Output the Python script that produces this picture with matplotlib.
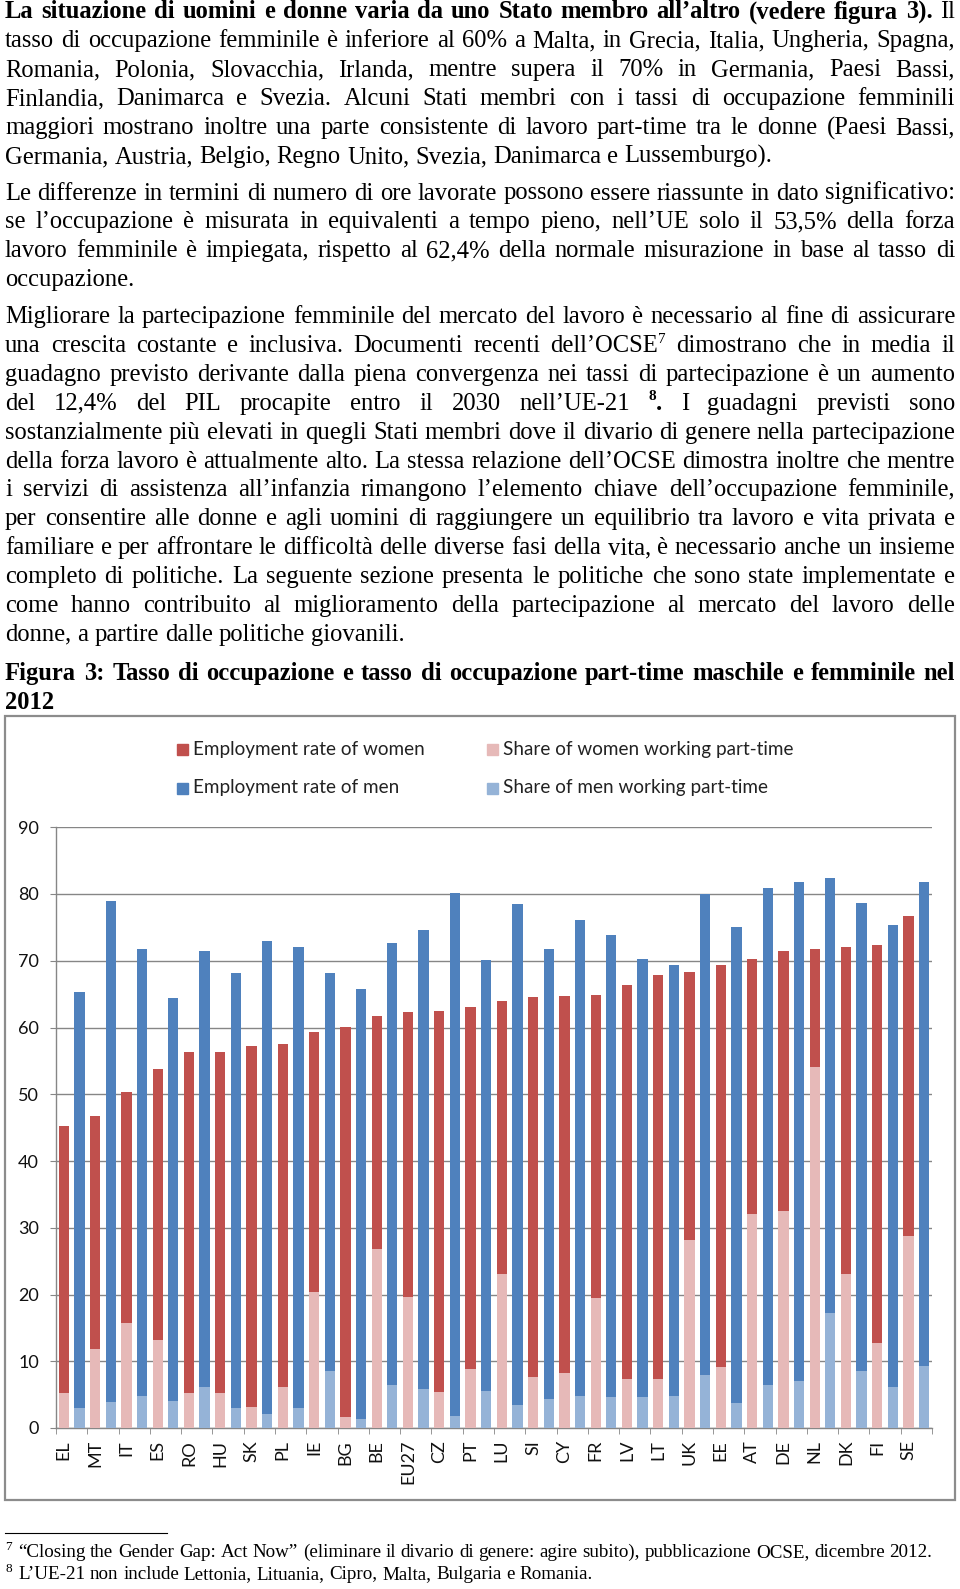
"""Pagina con testo giustificato e Figura 3: tassi di occupazione 2012."""
import numpy as np
import matplotlib.pyplot as plt
from matplotlib.patches import Rectangle
from matplotlib.lines import Line2D

W, H = 960, 1589
SERIF = "Liberation Serif"
SANS = "Lato"

# dati della figura 3
countries = ["EL", "MT", "IT", "ES", "RO", "HU", "SK", "PL", "IE", "BG", "BE", "EU27",
             "CZ", "PT", "LU", "SI", "CY", "FR", "LV", "LT", "UK", "EE", "AT", "DE",
             "NL", "DK", "FI", "SE"]
women_rate = [45.2, 46.7, 50.3, 53.8, 56.3, 56.4, 57.3, 57.5, 59.4, 60.1, 61.7, 62.3,
              62.4, 63.0, 63.9, 64.6, 64.7, 64.9, 66.3, 67.9, 68.3, 69.3, 70.3, 71.5,
              71.8, 72.1, 72.4, 76.7]
men_rate = [65.3, 79.0, 71.7, 64.4, 71.5, 68.2, 72.9, 72.0, 68.2, 65.8, 72.7, 74.6,
            80.2, 70.1, 78.5, 71.8, 76.1, 73.8, 70.3, 69.4, 80.0, 75.1, 80.9, 81.8,
            82.4, 78.7, 75.4, 81.8]
women_pt = [5.3, 11.8, 15.7, 13.2, 5.3, 5.3, 3.2, 6.1, 20.3, 1.7, 26.8, 19.6,
            5.4, 8.8, 23.1, 7.6, 8.3, 19.5, 7.3, 7.3, 28.1, 9.1, 32.1, 32.5,
            54.1, 23.1, 12.8, 28.7]
men_pt = [3.0, 3.9, 4.8, 4.1, 6.1, 3.0, 2.1, 3.0, 8.5, 1.4, 6.4, 5.9,
          1.8, 5.6, 3.5, 4.3, 4.8, 4.7, 4.7, 4.8, 8.0, 3.7, 6.4, 7.1,
          17.3, 8.6, 6.1, 9.3]
legend_labels = ["Employment rate of women", "Employment rate of men",
                 "Share of women working part-time", "Share of men working part-time"]

RED, BLUE, PINK, LBLUE = "#C0504D", "#4F81BD", "#E6B9B8", "#95B3D7"
GRID = "#868686"

fig = plt.figure(figsize=(W / 100, H / 100), dpi=100)
renderer = fig.canvas.get_renderer()


def fx(x):
    return x / W


def fy(y):
    return 1 - y / H


def words(s, **p):
    return [[(w, p)] for w in s.split()]


def text_width(t):
    return t.get_window_extent(renderer).width


def space_width(size):
    a = fig.text(0, 0, "n n", fontsize=size, family=SERIF)
    b = fig.text(0, 0, "nn", fontsize=size, family=SERIF)
    w = text_width(a) - text_width(b)
    a.remove()
    b.remove()
    return w


def make_runs(ws, y, size):
    items = []
    for w in ws:
        runs = []
        for txt, p in w:
            t = fig.text(0, fy(y - p.get("dy", 0)), txt, fontsize=p.get("size", size),
                         fontweight=p.get("weight", "normal"), family=SERIF,
                         va="baseline", color="black")
            runs.append(t)
        items.append(runs)
    return items


def natural_width(ws, size):
    items = make_runs(ws, 0, size)
    total = sum(text_width(t) for runs in items for t in runs)
    total += space_width(size) * (len(items) - 1)
    for runs in items:
        for t in runs:
            t.remove()
    return total


def put_line(ws, y, size, justify=True, x0=5, x1=955):
    items = make_runs(ws, y, size)
    widths = [[text_width(t) for t in runs] for runs in items]
    total = sum(sum(r) for r in widths)
    if justify and len(items) > 1:
        gap = (x1 - x0 - total) / (len(items) - 1)
    else:
        gap = space_width(size)
    x = x0
    for runs, ww in zip(items, widths):
        for t, w in zip(runs, ww):
            t.set_x(fx(x))
            x += w
        x += gap


SUP = {"size": 11, "dy": 9}
SUPB = {"size": 11, "dy": 10, "weight": "bold"}
BOLD = {"weight": "bold"}

para1 = [
    words("La situazione di uomini e donne varia da uno Stato membro all’altro (vedere figura 3).", **BOLD) + words("Il"),
    words("tasso di occupazione femminile è inferiore al 60% a Malta, in Grecia, Italia, Ungheria, Spagna,"),
    words("Romania, Polonia, Slovacchia, Irlanda, mentre supera il 70% in Germania, Paesi Bassi,"),
    words("Finlandia, Danimarca e Svezia. Alcuni Stati membri con i tassi di occupazione femminili"),
    words("maggiori mostrano inoltre una parte consistente di lavoro part-time tra le donne (Paesi Bassi,"),
    words("Germania, Austria, Belgio, Regno Unito, Svezia, Danimarca e Lussemburgo)."),
]
para2 = [
    words("Le differenze in termini di numero di ore lavorate possono essere riassunte in dato significativo:"),
    words("se l’occupazione è misurata in equivalenti a tempo pieno, nell’UE solo il 53,5% della forza"),
    words("lavoro femminile è impiegata, rispetto al 62,4% della normale misurazione in base al tasso di"),
    words("occupazione."),
]
para3 = [
    words("Migliorare la partecipazione femminile del mercato del lavoro è necessario al fine di assicurare"),
    words("una crescita costante e inclusiva. Documenti recenti") + [[("dell’OCSE", {}), ("7", SUP)]]
    + words("dimostrano che in media il"),
    words("guadagno previsto derivante dalla piena convergenza nei tassi di partecipazione è un aumento"),
    words("del 12,4% del PIL procapite entro il 2030 nell’UE-21") + [[("8", SUPB), (".", BOLD)]]
    + words("I guadagni previsti sono"),
    words("sostanzialmente più elevati in quegli Stati membri dove il divario di genere nella partecipazione"),
    words("della forza lavoro è attualmente alto. La stessa relazione dell’OCSE dimostra inoltre che mentre"),
    words("i servizi di assistenza all’infanzia rimangono l’elemento chiave dell’occupazione femminile,"),
    words("per consentire alle donne e agli uomini di raggiungere un equilibrio tra lavoro e vita privata e"),
    words("familiare e per affrontare le difficoltà delle diverse fasi della vita, è necessario anche un insieme"),
    words("completo di politiche. La seguente sezione presenta le politiche che sono state implementate e"),
    words("come hanno contribuito al miglioramento della partecipazione al mercato del lavoro delle"),
    words("donne, a partire dalle politiche giovanili."),
]
title = [
    words("Figura 3: Tasso di occupazione e tasso di occupazione part-time maschile e femminile nel", **BOLD),
    words("2012", **BOLD),
]

# corpo del testo: dimensione tale che la riga piu' piena occupi la giustezza
justified = [ln for para in (para1, para2, para3, title) for ln in para[:-1]]
widest = max(natural_width(ln, 16) for ln in justified)
FS = 16 * 948 / widest

LS = 28.9
for start, para in [(18.5, para1), (199.5, para2), (323.0, para3), (680.0, title)]:
    for i, line in enumerate(para):
        put_line(line, start + i * LS, FS, justify=(i < len(para) - 1))

# riquadro del grafico
fig.add_artist(Rectangle((fx(5), fy(1500)), (955 - 5) / W, (1500 - 716) / H,
                         transform=fig.transFigure, fill=False, ec="#8c8c8c", lw=1.6))

ax = fig.add_axes([fx(56), fy(1428), (932 - 56) / W, (1428 - 827.25) / H])
x = np.arange(len(countries))
bw = 0.33
ax.bar(x - 0.25, women_rate, bw, color=RED, zorder=2)
ax.bar(x - 0.25, women_pt, bw, color=PINK, zorder=3)
ax.bar(x + 0.25, men_rate, bw, color=BLUE, zorder=2)
ax.bar(x + 0.25, men_pt, bw, color=LBLUE, zorder=3)

ax.set_xlim(-0.5, len(countries) - 0.5)
ax.set_ylim(0, 90)
ax.set_yticks(range(0, 91, 10))
ax.yaxis.grid(True, color=GRID, lw=1)
ax.set_axisbelow(True)
for s in ["top", "right"]:
    ax.spines[s].set_visible(False)
for s in ["left", "bottom"]:
    ax.spines[s].set_color(GRID)
    ax.spines[s].set_linewidth(1)
ax.tick_params(axis="y", length=4.3, color=GRID, pad=8, labelsize=13,
               labelcolor="#111111", labelfontfamily=SANS)
ax.set_xticks(x - 0.25, countries, rotation=90)
ax.set_xticks(np.arange(-0.5, len(countries)), minor=True)
ax.tick_params(axis="x", which="major", length=0, pad=8.6, labelsize=13,
               labelcolor="#111111", labelfontfamily=SANS)
ax.tick_params(axis="x", which="minor", length=4.3, color=GRID)

# legenda
leg = [(176.7, 749.7), (176.7, 788.0), (486.7, 749.7), (486.7, 788.0)]
for (lx, ly), lab, col in zip(leg, legend_labels, [RED, BLUE, PINK, LBLUE]):
    fig.add_artist(Rectangle((fx(lx), fy(ly + 5.5)), 11 / W, 11 / H,
                             transform=fig.transFigure, color=col))
    fig.text(fx(lx + 16), fy(ly), lab, fontsize=13.6, family=SANS, va="center",
             color="#222222")

# note a pie' di pagina
fig.add_artist(Line2D([fx(5), fx(167)], [fy(1533), fy(1533)], color="black", lw=0.8))
FN = 13.7
put_line([[("7", {"size": 9.5, "dy": 7})]], 1557, FN, justify=False, x0=5)
put_line(words("“Closing the Gender Gap: Act Now” (eliminare il divario di genere: agire subito), pubblicazione OCSE, dicembre 2012."),
         1557, FN, justify=False, x0=18)
put_line([[("8", {"size": 9.5, "dy": 7})]], 1579, FN, justify=False, x0=5)
put_line(words("L’UE-21 non include Lettonia, Lituania, Cipro, Malta, Bulgaria e Romania."),
         1579, FN, justify=False, x0=18)

fig.savefig("out.png", dpi=100)
print("Wrote out.png")
